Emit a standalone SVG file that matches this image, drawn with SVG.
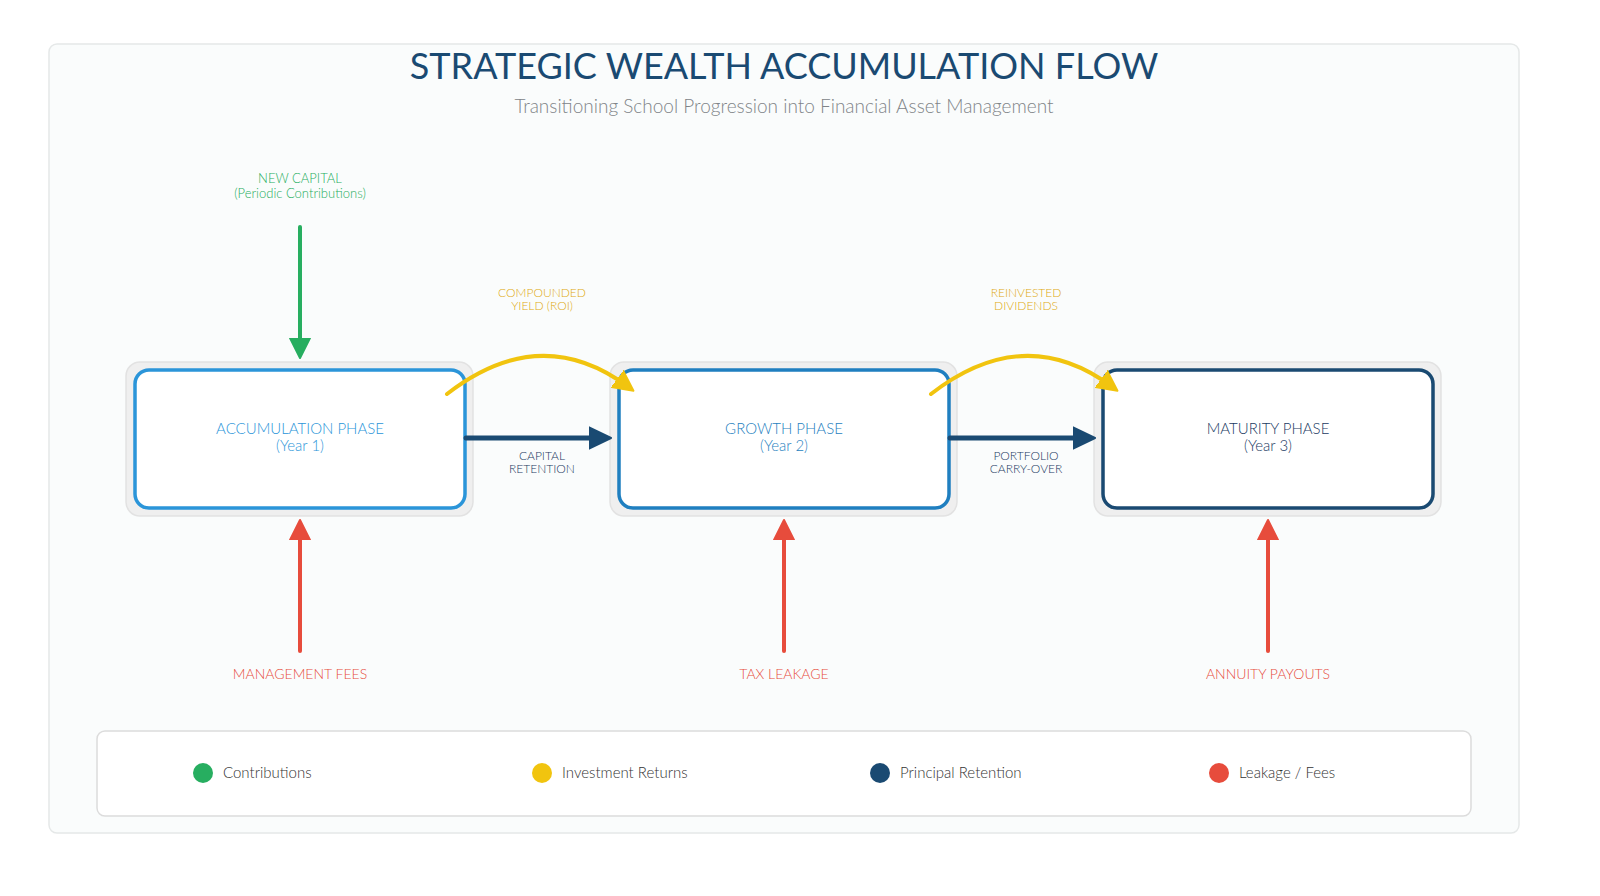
<svg xmlns="http://www.w3.org/2000/svg" width="1600" height="896" viewBox="0 0 1600 896">
<defs>
<style>
text{font-family:Lato,"Open Sans",sans-serif;text-anchor:middle;font-weight:300}
.sh{fill:#efefef;stroke:#e2e2e2;stroke-width:1.5}
.bx{fill:#fff;stroke-width:3.5}
.nt{font-size:15px}
.lb{font-size:12px}
.lg{font-size:15px;fill:#333;text-anchor:start}
</style>
<marker id="mg" markerWidth="6" markerHeight="6" refX="3" refY="3" orient="auto" markerUnits="strokeWidth"><path d="M0,0.5L5,3L0,5.5z" fill="#27ae60" stroke="#27ae60" stroke-width="0.5" stroke-linejoin="round"/></marker>
<marker id="mr" markerWidth="6" markerHeight="6" refX="3" refY="3" orient="auto" markerUnits="strokeWidth"><path d="M0,0.5L5,3L0,5.5z" fill="#e74c3c" stroke="#e74c3c" stroke-width="0.5" stroke-linejoin="round"/></marker>
<marker id="mb" markerWidth="5" markerHeight="5" refX="2.5" refY="2.5" orient="auto" markerUnits="strokeWidth"><path d="M0,0.3L4.5,2.5L0,4.7z" fill="#1a4a72" stroke="#1a4a72" stroke-width="0.4" stroke-linejoin="round"/></marker>
<marker id="my" markerWidth="6" markerHeight="6" refX="3" refY="3" orient="auto" markerUnits="strokeWidth"><path d="M0,0.5L5,3L0,5.5z" fill="#f1c40f" stroke="#f1c40f" stroke-width="0.5" stroke-linejoin="round"/></marker>
</defs>
<rect width="1600" height="896" fill="#fff"/>
<rect x="49" y="44" width="1470" height="789" rx="8" fill="#fafcfc" stroke="#e5e8e8" stroke-width="1.5"/>
<text x="784" y="79" font-size="36" fill="#1a4a72" style="font-weight:400">STRATEGIC WEALTH ACCUMULATION FLOW</text>
<text x="784" y="113" font-size="19" fill="#808488">Transitioning School Progression into Financial Asset Management</text>

<g id="node-accumulation">
<rect class="sh" x="126" y="362" width="347" height="154" rx="14"/>
<rect class="bx" x="135" y="370" width="330" height="138" rx="14" stroke="#2b95d9"/>
<text class="nt" x="300" y="434" fill="#2b95d9">ACCUMULATION PHASE</text>
<text class="nt" x="300" y="451" fill="#2b95d9">(Year 1)</text>
</g>
<g id="node-growth">
<rect class="sh" x="610" y="362" width="347" height="154" rx="14"/>
<rect class="bx" x="619" y="370" width="330" height="138" rx="14" stroke="#1f7fc0"/>
<text class="nt" x="784" y="434" fill="#1f7fc0">GROWTH PHASE</text>
<text class="nt" x="784" y="451" fill="#1f7fc0">(Year 2)</text>
</g>
<g id="node-maturity">
<rect class="sh" x="1094" y="362" width="347" height="154" rx="14"/>
<rect class="bx" x="1103" y="370" width="330" height="138" rx="14" stroke="#1a4a72"/>
<text class="nt" x="1268" y="434" fill="#1a3a62">MATURITY PHASE</text>
<text class="nt" x="1268" y="451" fill="#1a3a62">(Year 3)</text>
</g>

<g id="connectors" fill="none" stroke-linecap="round">
<line x1="300" y1="227" x2="300" y2="350" stroke="#27ae60" stroke-width="4" marker-end="url(#mg)"/>
<line x1="300" y1="651" x2="300" y2="528" stroke="#e74c3c" stroke-width="4" marker-end="url(#mr)"/>
<line x1="784" y1="651" x2="784" y2="528" stroke="#e74c3c" stroke-width="4" marker-end="url(#mr)"/>
<line x1="1268" y1="651" x2="1268" y2="528" stroke="#e74c3c" stroke-width="4" marker-end="url(#mr)"/>
<line x1="466" y1="438" x2="601" y2="438" stroke="#1a4a72" stroke-width="5" marker-end="url(#mb)"/>
<line x1="950" y1="438" x2="1085" y2="438" stroke="#1a4a72" stroke-width="5" marker-end="url(#mb)"/>
<path d="M447,394 Q540,322 627,386" stroke="#f1c40f" stroke-width="4" marker-end="url(#my)"/>
<path d="M931,394 Q1024,322 1111,386" stroke="#f1c40f" stroke-width="4" marker-end="url(#my)"/>
</g>

<g id="labels">
<text x="300" y="183" fill="#27ae60" font-size="13">NEW CAPITAL</text>
<text x="300" y="198" fill="#27ae60" font-size="13">(Periodic Contributions)</text>
<text class="lb" x="542" y="297" fill="#e0aa10">COMPOUNDED</text>
<text class="lb" x="542" y="310" fill="#e0aa10">YIELD (ROI)</text>
<text class="lb" x="1026" y="297" fill="#e0aa10">REINVESTED</text>
<text class="lb" x="1026" y="310" fill="#e0aa10">DIVIDENDS</text>
<text class="lb" x="542" y="460" fill="#1a3a62">CAPITAL</text>
<text class="lb" x="542" y="473" fill="#1a3a62">RETENTION</text>
<text class="lb" x="1026" y="460" fill="#1a3a62">PORTFOLIO</text>
<text class="lb" x="1026" y="473" fill="#1a3a62">CARRY-OVER</text>
<text x="300" y="679" font-size="14" fill="#e74c3c">MANAGEMENT FEES</text>
<text x="784" y="679" font-size="14" fill="#e74c3c">TAX LEAKAGE</text>
<text x="1268" y="679" font-size="14" fill="#e74c3c">ANNUITY PAYOUTS</text>
</g>

<g id="legend">
<rect x="97" y="731" width="1374" height="85" rx="8" fill="#fff" stroke="#dcdcdc" stroke-width="1.5"/>
<circle cx="203" cy="773" r="10" fill="#27ae60"/><text class="lg" x="223" y="778">Contributions</text>
<circle cx="542" cy="773" r="10" fill="#f1c40f"/><text class="lg" x="562" y="778">Investment Returns</text>
<circle cx="880" cy="773" r="10" fill="#1a4a72"/><text class="lg" x="900" y="778">Principal Retention</text>
<circle cx="1219" cy="773" r="10" fill="#e74c3c"/><text class="lg" x="1239" y="778">Leakage / Fees</text>
</g>
</svg>
